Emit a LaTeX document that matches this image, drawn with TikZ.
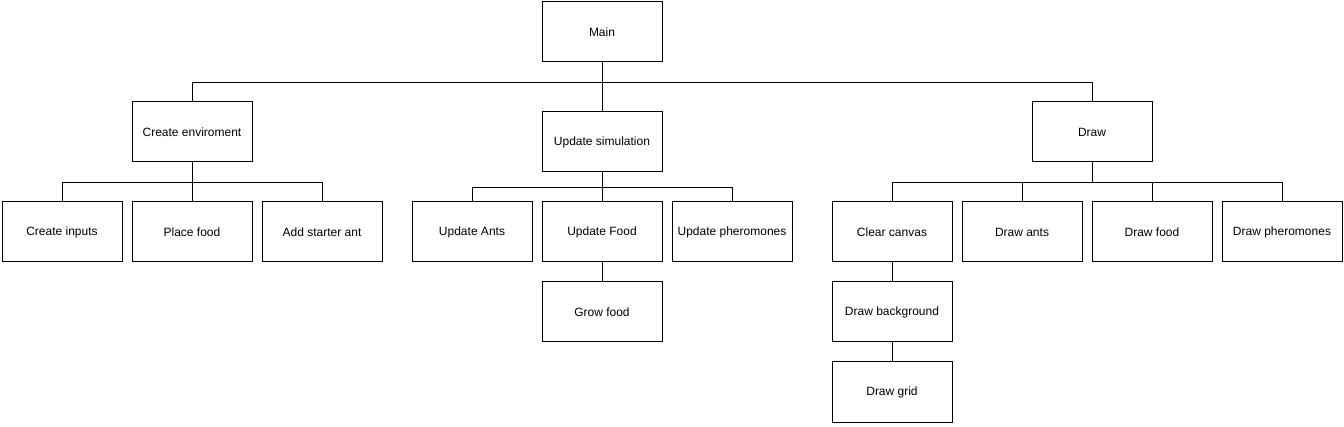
\documentclass[tikz,border=0pt]{standalone}
\usepackage{fontspec}
\setmainfont{Liberation Sans}
\begin{document}
\begin{tikzpicture}[x=1pt,y=-1pt,
  box/.style={draw=black,line width=1pt,minimum width=120pt,minimum height=60pt,inner sep=0pt,font=\fontsize{12}{14}\selectfont,fill=white},
  conn/.style={draw=black,line width=1pt}]
\useasboundingbox (0,0) rectangle (1344,427);
\node[box] (main) at (602,32) {Main};
\node[box] (env) at (192,132) {Create enviroment};
\node[box] (sim) at (602,142) {Update simulation};
\node[box] (draw) at (1092,132) {Draw};
\node[box] (inputs) at (62,232) {Create inputs};
\node[box] (place) at (192,232) {Place food};
\node[box] (starter) at (322,232) {Add starter ant};
\node[box] (uants) at (472,232) {Update Ants};
\node[box] (ufood) at (602,232) {Update Food};
\node[box] (upher) at (732,232) {Update pheromones};
\node[box] (clear) at (892,232) {Clear canvas};
\node[box] (dants) at (1022,232) {Draw ants};
\node[box] (dfood) at (1152,232) {Draw food};
\node[box] (dpher) at (1282,232) {Draw pheromones};
\node[box] (grow) at (602,312) {Grow food};
\node[box] (bg) at (892,312) {Draw background};
\node[box] (grid) at (892,392) {Draw grid};
% level 1
\draw[conn] (main.south) -- (sim.north);
\draw[conn] (main.south) -- ++(0,20) -| (env.north);
\draw[conn] (main.south) -- ++(0,20) -| (draw.north);
% env
\draw[conn] (env.south) -- (place.north);
\draw[conn] (env.south) -- ++(0,20) -| (inputs.north);
\draw[conn] (env.south) -- ++(0,20) -| (starter.north);
% sim
\draw[conn] (sim.south) -- (ufood.north);
\draw[conn] (sim.south) -- ++(0,15) -| (uants.north);
\draw[conn] (sim.south) -- ++(0,15) -| (upher.north);
\draw[conn] (ufood.south) -- (grow.north);
% draw
\draw[conn] (draw.south) -- ++(0,20) -| (clear.north);
\draw[conn] (draw.south) -- ++(0,20) -| (dants.north);
\draw[conn] (draw.south) -- ++(0,20) -| (dfood.north);
\draw[conn] (draw.south) -- ++(0,20) -| (dpher.north);
\draw[conn] (clear.south) -- (bg.north);
\draw[conn] (bg.south) -- (grid.north);
\end{tikzpicture}
\end{document}
